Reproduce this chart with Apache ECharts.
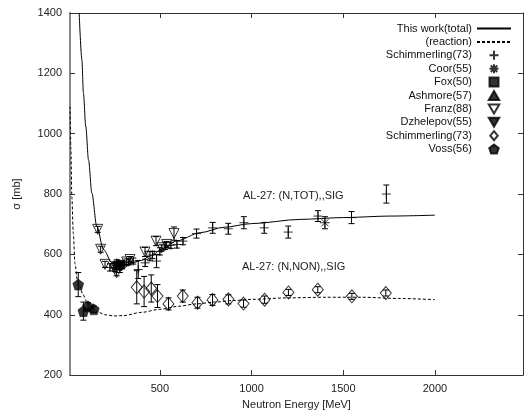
<!DOCTYPE html>
<html>
<head>
<meta charset="utf-8">
<script src="https://cdn.jsdelivr.net/npm/echarts@6/dist/echarts.min.js"></script>
<style>
  html, body { margin: 0; padding: 0; background: #fff; }
  #chart { width: 526px; height: 415px; }
</style>
</head>
<body>
<div id="chart"></div>
<script>
// evaluated cross sections (curves)
const totalE   = [60, 75, 83, 96, 111, 129, 156, 193, 238, 265, 320, 400, 447, 520, 592, 720, 850, 1000, 1265, 1500, 1750, 2000];
const totalSig = [1400, 1245, 1135, 1024, 913, 804, 693, 616, 573, 562, 565, 580, 595, 620, 645, 672, 690, 702, 716, 722, 727, 730];
const reactE   = [10, 15, 20, 28, 37, 50, 60, 80, 100, 130, 160, 200, 250, 300, 400, 500, 600, 700, 800, 900, 1000, 1200, 1400, 1600, 1800, 2000];
const reactSig = [1090, 950, 790, 670, 570, 515, 500, 468, 445, 425, 410, 400, 396, 397, 408, 418, 428, 436, 442, 447, 451, 456, 458, 458, 454, 450];

// experimental data: energy [MeV], sigma [mb], error [mb]
const schimTotE   = [228, 250, 265, 282, 300, 330, 355, 382, 420, 460, 482, 500, 529, 560, 593, 626, 700, 788, 873, 958, 1069, 1200, 1362, 1545, 1735];
const schimTotSig = [557, 565, 572, 552, 568, 575, 578, 550, 572, 598, 578, 610, 628, 630, 633, 644, 669, 688, 685, 705, 688, 674, 727, 722, 800];
const schimTotErr = [12, 10, 10, 12, 10, 10, 10, 30, 12, 12, 22, 12, 12, 10, 12, 12, 15, 18, 18, 20, 18, 20, 18, 20, 30];
const coorE   = [1400];
const coorSig = [705];
const coorErr = [20];
const foxE    = [270, 285];
const foxSig  = [562, 566];
const ashE    = [275];
const ashSig  = [570];
const franzE   = [161, 177, 201, 255, 264, 319, 337, 419, 446, 479, 510, 537, 577];
const franzSig = [683, 617, 567, 553, 539, 575, 583, 608, 594, 644, 622, 633, 669];
const franzErr = [10, 10, 10, 10, 10, 10, 10, 15, 15, 15, 10, 10, 22];
const dzhE    = [290];
const dzhSig  = [560];
const schimReacE   = [374, 414, 453, 487, 547, 625, 705, 787, 874, 956, 1071, 1201, 1361, 1547, 1732];
const schimReacSig = [491, 477, 487, 462, 436, 462, 440, 449, 451, 437, 450, 474, 483, 461, 472];
const schimReacErr = [55, 50, 45, 38, 20, 20, 18, 18, 15, 12, 12, 10, 10, 10, 10];
const vossE   = [55, 83, 108, 140];
const vossSig = [500, 412, 428, 418];
const vossErr = [40, 30, 12, 10];

const xTicks = [500, 1000, 1500, 2000];

// gnuplot-like point shapes
const PLUS = 'path://M0,-5L0,5M-5,0L5,0';
const STAR = 'path://M0,-5L0,5M-5,0L5,0M-3.6,-3.6L3.6,3.6M-3.6,3.6L3.6,-3.6';
const SQUARE = 'path://M-5,-5L5,-5L5,5L-5,5Z';
const TRI_UP = 'path://M-5,4.3L5,4.3L0,-4.3Z';
const TRI_DOWN = 'path://M-5,-4.3L5,-4.3L0,4.3Z';
const DIAMOND = 'path://M0,-6L5,0L0,6L-5,0Z';
const PENTAGON = 'path://M0,-5L4.76,-1.55L2.94,4.05L-2.94,4.05L-4.76,-1.55Z';
const FONT = 'Liberation Sans';

const zip = (a, b) => a.map((v, i) => [v, b[i]]);
const zipErr = (e, s, d) => e.map((v, i) => [v, s[i] - d[i], s[i] + d[i]]);

function errorBars(e, s, d) {
    return {
        type: 'custom',
        silent: true,
        z: 1,
        clip: true,
        renderItem: function (params, api) {
            const lo = api.coord([api.value(0), api.value(1)]);
            const hi = api.coord([api.value(0), api.value(2)]);
            const st = { stroke: '#000', lineWidth: 1 };
            const w = 3;
            return {
                type: 'group',
                children: [
                    { type: 'line', shape: { x1: lo[0], y1: lo[1], x2: hi[0], y2: hi[1] }, style: st },
                    { type: 'line', shape: { x1: lo[0] - w, y1: lo[1], x2: lo[0] + w, y2: lo[1] }, style: st },
                    { type: 'line', shape: { x1: hi[0] - w, y1: hi[1], x2: hi[0] + w, y2: hi[1] }, style: st }
                ]
            };
        },
        encode: { x: 0, y: [1, 2] },
        data: zipErr(e, s, d)
    };
}

function points(name, e, s, symbol, size, filled) {
    return {
        name: name,
        type: 'scatter',
        z: 3,
        symbol: symbol,
        symbolSize: size,
        itemStyle: filled
            ? { color: '#000', borderColor: '#000', borderWidth: 0.5 }
            : { color: 'rgba(0,0,0,0)', borderColor: '#000', borderWidth: 1 },
        data: zip(e, s)
    };
}

const chart = echarts.init(document.getElementById('chart'));

const axisText = { color: '#222', fontFamily: FONT, fontSize: 11 };
const noSymbol = { color: 'rgba(0,0,0,0)', borderWidth: 0, opacity: 0 };

chart.setOption({
    animation: false,
    backgroundColor: '#fff',
    grid: { left: 70, right: 3, top: 13, bottom: 35 },
    xAxis: [{
        type: 'value', min: 10, max: 2480,
        name: 'Neutron Energy [MeV]', nameLocation: 'middle', nameGap: 21,
        nameTextStyle: axisText,
        axisLine: { lineStyle: { color: '#333', width: 1 } },
        axisTick: { inside: true, length: 5, customValues: xTicks, lineStyle: { color: '#333' } },
        axisLabel: Object.assign({ customValues: xTicks, margin: 8, formatter: v => String(v) }, axisText),
        splitLine: { show: false }
    }, {
        type: 'value', min: 10, max: 2480, position: 'top',
        axisLine: { lineStyle: { color: '#333', width: 1 } },
        axisTick: { inside: true, length: 5, customValues: xTicks, lineStyle: { color: '#333' } },
        axisLabel: { show: false },
        splitLine: { show: false }
    }],
    yAxis: [{
        type: 'value', min: 200, max: 1400, interval: 200,
        name: 'σ [mb]', nameLocation: 'middle', nameGap: 48,
        nameTextStyle: axisText,
        axisLine: { show: true, lineStyle: { color: '#888', width: 2 } },
        axisTick: { inside: true, length: 5, lineStyle: { color: '#333' } },
        axisLabel: Object.assign({ margin: 8, formatter: v => String(v) }, axisText),
        splitLine: { show: false }
    }, {
        type: 'value', min: 200, max: 1400, interval: 200, position: 'right',
        axisLine: { show: true, lineStyle: { color: '#333', width: 1 } },
        axisTick: { inside: true, length: 5, lineStyle: { color: '#333' } },
        axisLabel: { show: false },
        splitLine: { show: false }
    }],
    legend: {
        orient: 'vertical',
        right: 9,
        top: 18,
        align: 'right',
        itemWidth: 34,
        itemHeight: 9,
        itemGap: 2.4,
        symbolKeepAspect: true,
        textStyle: { color: '#111', fontFamily: FONT, fontSize: 11, lineHeight: 10 },
        formatter: n => n.split('#')[0],
        data: [
            { name: 'This work(total)', itemStyle: noSymbol },
            { name: '(reaction)', itemStyle: noSymbol },
            'Schimmerling(73)', 'Coor(55)', 'Fox(50)', 'Ashmore(57)', 'Franz(88)',
            'Dzhelepov(55)', 'Schimmerling(73)#2', 'Voss(56)'
        ]
    },
    graphic: [
        { type: 'text', left: 243, top: 190, style: { text: 'AL-27: (N,TOT),,SIG', fill: '#222', font: '11px "Liberation Sans"' } },
        { type: 'text', left: 242, top: 261, style: { text: 'AL-27: (N,NON),,SIG', fill: '#222', font: '11px "Liberation Sans"' } }
    ],
    series: [
        {
            name: 'This work(total)', type: 'line', z: 2,
            showSymbol: false, symbol: 'none', smooth: 0.3, smoothMonotone: 'x',
            lineStyle: { color: '#000', width: 1 }, itemStyle: { color: '#000' },
            data: zip(totalE, totalSig)
        },
        {
            name: '(reaction)', type: 'line', z: 2,
            showSymbol: false, symbol: 'none', smooth: 0.3, smoothMonotone: 'x',
            lineStyle: { color: '#000', width: 1, type: [3, 2] }, itemStyle: { color: '#000' },
            data: zip(reactE, reactSig)
        },
        errorBars(schimTotE, schimTotSig, schimTotErr),
        errorBars(coorE, coorSig, coorErr),
        errorBars(franzE, franzSig, franzErr),
        errorBars(schimReacE, schimReacSig, schimReacErr),
        errorBars(vossE, vossSig, vossErr),
        points('Schimmerling(73)', schimTotE, schimTotSig, PLUS, 9, false),
        points('Coor(55)', coorE, coorSig, STAR, 10, false),
        points('Fox(50)', foxE, foxSig, SQUARE, 9, true),
        points('Ashmore(57)', ashE, ashSig, TRI_UP, 9, true),
        points('Franz(88)', franzE, franzSig, TRI_DOWN, 10, false),
        points('Dzhelepov(55)', dzhE, dzhSig, TRI_DOWN, 9, true),
        points('Schimmerling(73)#2', schimReacE, schimReacSig, DIAMOND, [11, 13], false),
        points('Voss(56)', vossE, vossSig, PENTAGON, 11, true)
    ]
});

window.addEventListener('resize', () => chart.resize());
</script>
</body>
</html>
